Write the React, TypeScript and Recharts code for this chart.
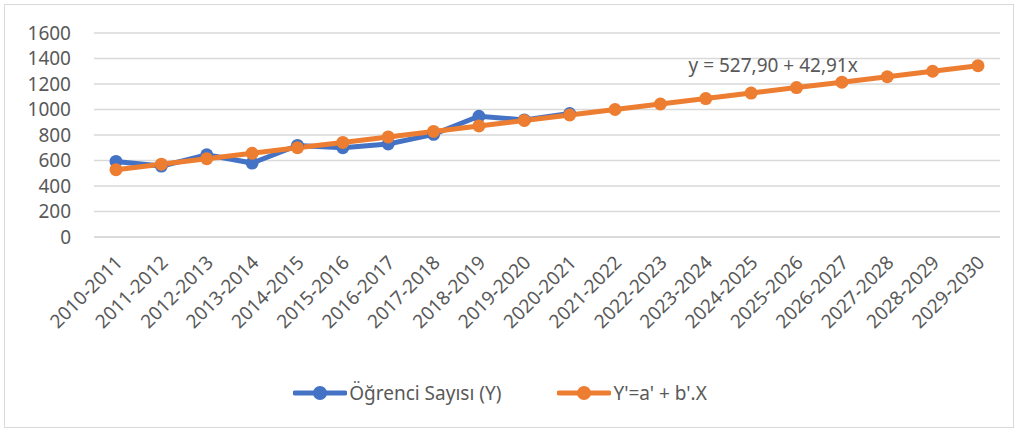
import React from 'react';
import { LineChart, Line, XAxis, YAxis, CartesianGrid, ReferenceDot, Legend } from 'recharts';

const years = [
  '2010-2011', '2011-2012', '2012-2013', '2013-2014', '2014-2015',
  '2015-2016', '2016-2017', '2017-2018', '2018-2019', '2019-2020',
  '2020-2021', '2021-2022', '2022-2023', '2023-2024', '2024-2025',
  '2025-2026', '2026-2027', '2027-2028', '2028-2029', '2029-2030',
];

// observed student counts (only up to 2020-2021)
const students = [593, 556, 645, 580, 718, 700, 730, 805, 947, 918, 968];

// trend line values
const trend = [
  528, 571, 614, 657, 700, 742, 785, 828, 871, 914,
  957, 1000, 1043, 1086, 1129, 1172, 1214, 1257, 1300, 1343,
];

const yTicks = [0, 200, 400, 600, 800, 1000, 1200, 1400, 1600];

const equationText = 'y = 527,90 + 42,91x';

const BLUE = '#4472C4';
const ORANGE = '#ED7D31';
const TEXT = '#595959';
const FONT = '"Noto Sans", "Open Sans", sans-serif';

const data = years.map((year, i) => ({
  year,
  students: i < students.length ? students[i] : null,
  trend: trend[i],
}));

const series = [
  { key: 'students', name: 'Öğrenci Sayısı (Y)', color: BLUE },
  { key: 'trend', name: "Y'=a' + b'.X", color: ORANGE },
];

function YearTick(props: any) {
  const { x, y, payload } = props;
  return (
    <g transform={`translate(${x + 3},${y + 14})`}>
      <text
        transform="rotate(-45)"
        textAnchor="end"
        dy="0.35em"
        fill={TEXT}
        fontSize={19}
        fontFamily={FONT}
      >
        {payload.value}
      </text>
    </g>
  );
}

function LegendContent() {
  return (
    <div style={{ display: 'flex', justifyContent: 'center', gap: 56, fontFamily: FONT, fontSize: 19, color: TEXT }}>
      {series.map((s) => (
        <div key={s.key} style={{ display: 'flex', alignItems: 'center' }}>
          <svg width={54} height={20} style={{ marginRight: 2 }}>
            <line x1={2} y1={10} x2={52} y2={10} stroke={s.color} strokeWidth={5} strokeLinecap="round" />
            <circle cx={27} cy={10} r={7} fill={s.color} />
          </svg>
          <span>{s.name}</span>
        </div>
      ))}
    </div>
  );
}

export default function App() {
  return (
    <div style={{ position: 'absolute', left: 0, top: 0, width: 1018, height: 432, background: '#fff' }}>
      <div
        style={{
          position: 'absolute',
          left: 4,
          top: 4,
          width: 1008,
          height: 422,
          border: '1.5px solid #d9d9d9',
        }}
      />
      <LineChart
        width={1018}
        height={432}
        data={data}
        margin={{ top: 33, right: 18, bottom: 0, left: 0 }}
        style={{ position: 'absolute', left: 0, top: 0 }}
      >
        <CartesianGrid vertical={false} stroke="#d9d9d9" strokeWidth={1.5} />
        <XAxis
          dataKey="year"
          interval={0}
          height={169}
          padding={{ left: 22, right: 22 }}
          axisLine={{ stroke: '#d9d9d9', strokeWidth: 1.5 }}
          tickLine={false}
          tick={<YearTick />}
        />
        <YAxis
          width={94}
          domain={[0, 1600]}
          ticks={yTicks}
          interval={0}
          axisLine={false}
          tickLine={false}
          tickSize={0}
          tickMargin={23}
          tick={{ fill: TEXT, fontSize: 19, fontFamily: FONT }}
        />
        <Legend verticalAlign="bottom" content={<LegendContent />} wrapperStyle={{ bottom: 26 }} />
        <Line
          dataKey="students"
          name={series[0].name}
          stroke={BLUE}
          strokeWidth={5}
          dot={{ r: 6.5, fill: BLUE, stroke: BLUE, strokeWidth: 0 }}
          activeDot={false}
          connectNulls={false}
          isAnimationActive={false}
        />
        <Line
          dataKey="trend"
          name={series[1].name}
          stroke={ORANGE}
          strokeWidth={5}
          dot={{ r: 6.5, fill: ORANGE, stroke: ORANGE, strokeWidth: 0 }}
          activeDot={false}
          isAnimationActive={false}
        />
        <ReferenceDot
          x="2024-2025"
          y={1350}
          r={0}
          fill="none"
          stroke="none"
          label={{ value: equationText, position: 'center', dx: 22, fill: TEXT, fontSize: 19, fontFamily: FONT }}
        />
      </LineChart>
    </div>
  );
}
